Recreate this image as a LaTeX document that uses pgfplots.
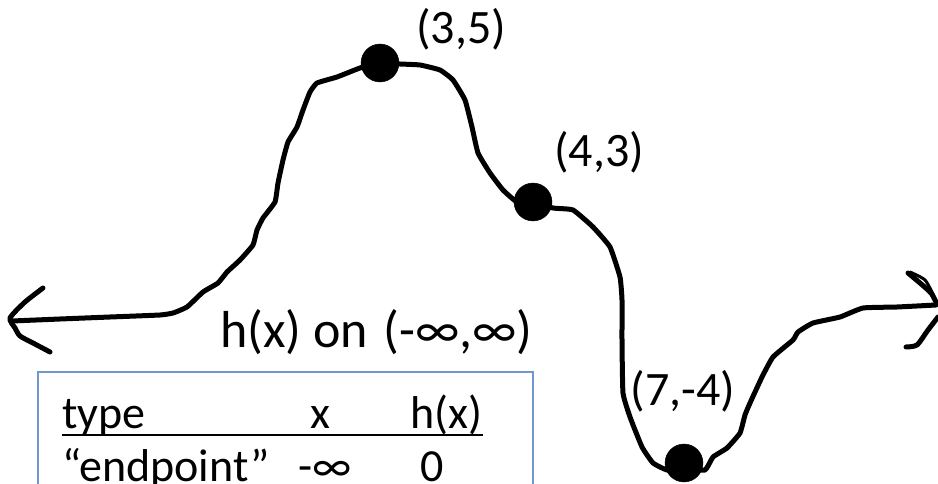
\documentclass[border=0pt]{standalone}
\usepackage{pgfplots}
\pgfplotsset{compat=1.18}
\usepackage{fontspec}
\setmainfont{Carlito}
\definecolor{boxblue}{RGB}{112,152,206}
\tikzset{lab/.style={font=\fontsize{46}{55}\selectfont, inner sep=0pt, outer sep=0pt}}
\begin{document}
\begin{tikzpicture}
\begin{axis}[scale only axis, width=938pt, height=484pt,
  xmin=0, xmax=938, ymin=0, ymax=484, y dir=reverse,
  axis lines=none, clip=false]
\coordinate (bl) at (rel axis cs:0,0);
\coordinate (tr) at (rel axis cs:1,1);
% main curve
\addplot[black, line width=5pt, line join=round, line cap=round, smooth, tension=0.25] coordinates {
(12,321) (60,319) (110,317) (160,315) (173,313) (187,307) (203,292) (218,283) (227,272)
(240,260) (253,245) (257,230) (263,218) (275,202) (278,183) (283,160) (288,142)
(297,127) (303,110) (310,92) (317,83) (337,77) (360,68) (380,63)
(400,64) (420,65) (440,70) (453,80) (465,100) (472,127) (478,153) (490,173) (503,190)
(517,202) (533,202) (553,208) (573,210) (593,227) (610,247) (620,277) (622,300)
(622,340) (623,393) (630,417) (642,447) (653,463) (667,470) (684,469) (705,470)
(713,457) (727,448) (740,433) (745,415) (750,403) (762,377) (773,357) (793,340)
(798,332) (813,323) (840,317) (863,308) (897,307) (936,305)
};
% left arrowhead
\addplot[black, line width=5pt, line join=round, line cap=round, smooth, tension=0.4] coordinates {
(43,288) (25,302) (10,318) (15,328) (20,336) (33,343) (50,352)
};
% right arrowhead
\addplot[black, line width=5pt, line join=round, line cap=round, smooth, tension=0.4] coordinates {
(908,273) (920,283) (931,293) (936,302)
};
\addplot[black, line width=3pt, line join=round, line cap=round, smooth, tension=0.4] coordinates {
(910,272) (925,280) (934,296)
};
\addplot[black, line width=5pt, line join=round, line cap=round, smooth, tension=0.4] coordinates {
(906,347) (917,345) (928,330) (938,317)
};
% points
\addplot[only marks, mark=*, mark size=19pt, black] coordinates {(380,63) (533,202) (684,463)};
% labels
\node[lab, font=\fontsize{48}{56}\selectfont] at (axis cs:461,29) {(3,5)};
\node[lab, font=\fontsize{48}{56}\selectfont] at (axis cs:599,152) {(4,3)};
\node[lab, font=\fontsize{48}{56}\selectfont] at (axis cs:683,391) {(7,-4)};
\node[lab, font=\fontsize{52}{60}\selectfont, anchor=base west] at (axis cs:220,347) {h(x) on\hspace{4pt} (-∞,∞)};
% table box
\draw[boxblue, line width=2pt] (axis cs:38,520) -- (axis cs:38,372) -- (axis cs:533,372) -- (axis cs:533,520);
\node[lab, anchor=base west] at (axis cs:62,428) {type};
\node[lab, anchor=base] at (axis cs:320,428) {x};
\node[lab, anchor=base west] at (axis cs:410,428) {h(x)};
\draw[black, line width=2.5pt] (axis cs:62,435) -- (axis cs:483,435);
\node[lab, anchor=base west] at (axis cs:62,481) {“endpoint”};
\node[lab, anchor=base] at (axis cs:325,481) {-∞};
\node[lab, anchor=base] at (axis cs:432,481) {0};
\end{axis}
\pgfresetboundingbox
\path[use as bounding box] (bl) rectangle (tr);
\end{tikzpicture}
\end{document}
